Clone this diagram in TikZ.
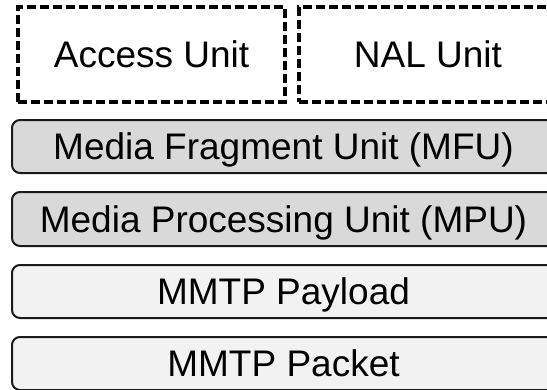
\documentclass[tikz,border=0pt]{standalone}
\usepackage{fontspec}
\setmainfont{Liberation Sans}
\definecolor{midgray}{HTML}{D9D9D9}
\definecolor{lightgray}{HTML}{F2F2F2}
\definecolor{edgegray}{HTML}{1A1A1A}
\begin{document}
\begin{tikzpicture}[x=1pt,y=-1pt,
  label text/.style={font=\fontsize{37}{44}\selectfont, text height=26.5pt, text depth=0pt, inner sep=0pt},
  dashbox/.style={label text, draw=black, line width=3.2pt, dash pattern=on 9pt off 4pt, fill=white},
  layerbox/.style={label text, draw=edgegray, line width=2pt, rounded corners=8pt, minimum height=53pt, minimum width=543pt},
  darklayer/.style={layerbox, fill=midgray},
  lightlayer/.style={layerbox, fill=lightgray}]
  \useasboundingbox (0,0) rectangle (547,389);
  % data units (top row)
  \node[dashbox, minimum width=267pt, minimum height=95pt] (au) at (151.5,54.5) {Access Unit};
  \node[dashbox, minimum width=258pt, minimum height=95pt] (nal) at (428,54.5) {NAL Unit};
  % MMT layers
  \node[darklayer]  (mfu) at (283.5,146.5) {Media Fragment Unit (MFU)};
  \node[darklayer, minimum height=54pt] (mpu) at (283.5,219) {Media Processing Unit (MPU)};
  \node[lightlayer] (payload) at (283.5,291.5) {MMTP Payload};
  \node[lightlayer] (packet) at (283.5,363.5) {MMTP Packet};
\end{tikzpicture}
\end{document}
